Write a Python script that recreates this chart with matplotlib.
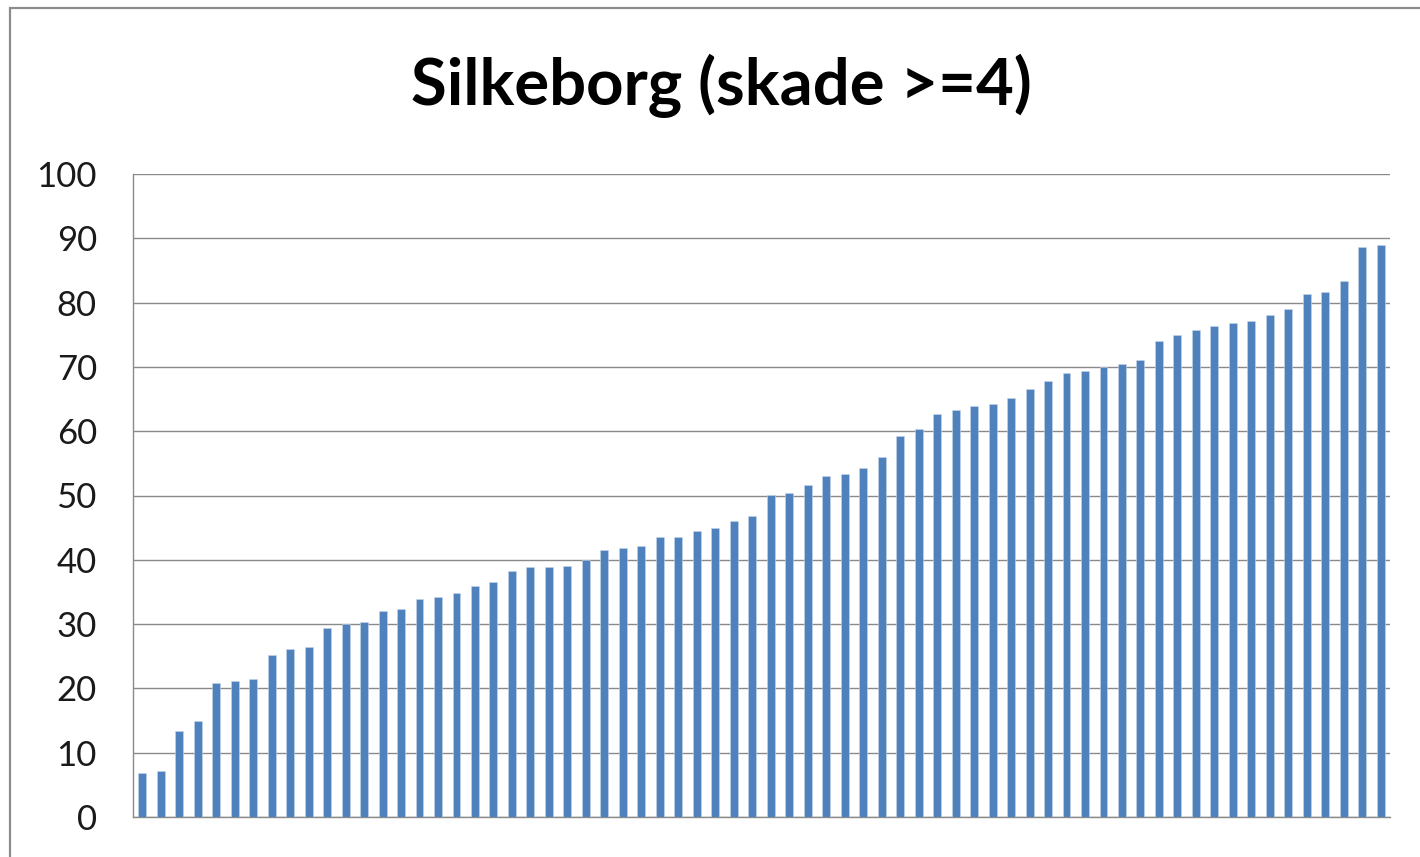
import matplotlib
matplotlib.use("Agg")
import matplotlib.pyplot as plt
from matplotlib.lines import Line2D

title = "Silkeborg (skade >=4)"
values = [6.9, 7.2, 13.4, 14.9, 20.8, 21.1, 21.4, 25.2, 26.1, 26.4,
          29.4, 30.0, 30.3, 32.1, 32.4, 33.9, 34.2, 34.8, 35.9, 36.5,
          38.3, 38.9, 38.9, 39.1, 39.9, 41.5, 41.8, 42.1, 43.6, 43.6,
          44.5, 45.0, 46.0, 46.8, 50.1, 50.4, 51.6, 53.0, 53.3, 54.2,
          56.0, 59.2, 60.4, 62.7, 63.3, 63.9, 64.2, 65.1, 66.6, 67.8,
          69.0, 69.3, 70.0, 70.5, 71.0, 74.0, 74.9, 75.7, 76.3, 76.9,
          77.2, 78.1, 79.0, 81.3, 81.6, 83.4, 88.7, 89.0]
yticks = [0, 10, 20, 30, 40, 50, 60, 70, 80, 90, 100]

W, H = 1420, 857
fig = plt.figure(figsize=(W / 100, H / 100), dpi=100)
fig.patch.set_facecolor("white")

# outer chart frame (only left/top visible in the reference)
fx, fy = 10 / W, 1 - 8 / H
fig.add_artist(Line2D([fx, fx, 1.0], [0.0, fy, fy], transform=fig.transFigure,
                      color="#8c8c8c", linewidth=1.6, solid_joinstyle="miter"))

ax = fig.add_axes([133 / W, 1 - 817 / H, (1390 - 133) / W, (817 - 174) / H])
x = list(range(len(values)))
ax.bar(x, values, width=0.43, color="#4F81BD", edgecolor="#c6d5ea",
       linewidth=0.4, zorder=3)
ax.set_xlim(-0.5, len(values) - 0.5)
ax.set_ylim(0, 100)
ax.set_yticks(yticks)
ax.set_yticklabels([str(t) for t in yticks], fontfamily="Lato", fontsize=25,
                   color="#1a1a1a")
ax.tick_params(axis="y", length=0, pad=26)
ax.set_xticks([])
ax.grid(axis="y", color="#8a8a8a", linewidth=1.0, zorder=1)
for s in ["top", "right"]:
    ax.spines[s].set_visible(False)
for s in ["left", "bottom"]:
    ax.spines[s].set_color("#8a8a8a")
    ax.spines[s].set_linewidth(1.0)

fig.text(721 / W, 1 - 86 / H, title, ha="center", va="center",
         fontfamily="Lato", fontweight="bold", fontsize=47, color="black")

fig.savefig("out.png", dpi=100)
